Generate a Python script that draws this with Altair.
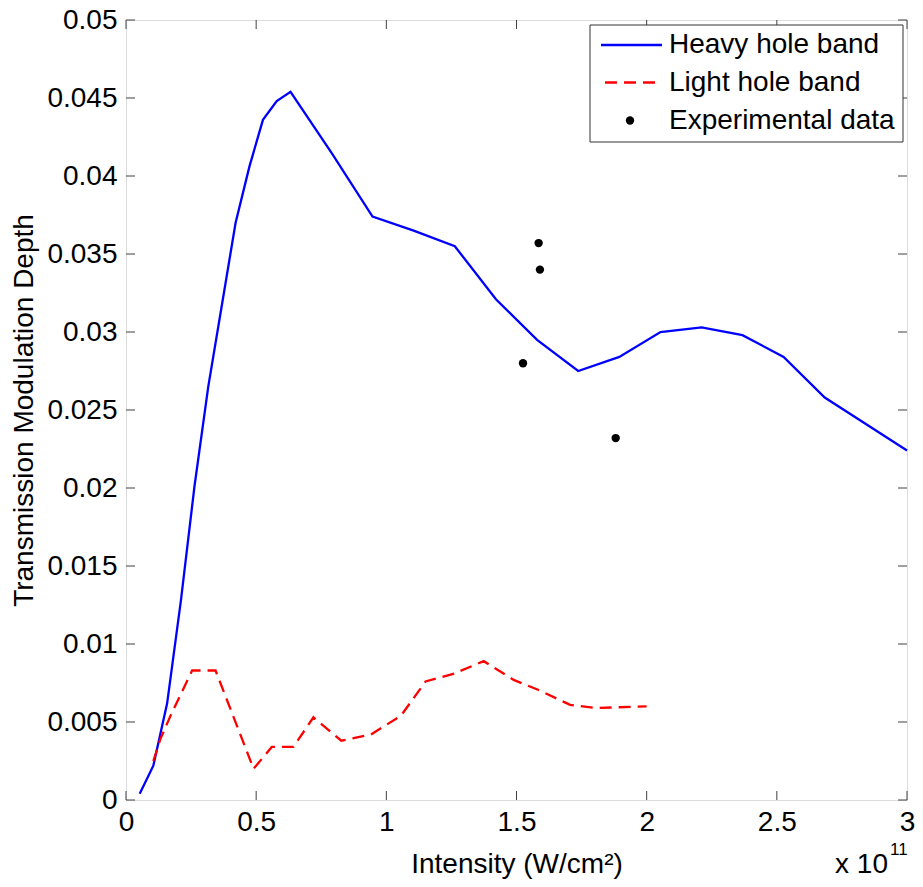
import altair as alt
import pandas as pd

# ---- data ----
heavy_x = [0.0526, 0.105, 0.158, 0.211, 0.263, 0.316, 0.368, 0.421, 0.474, 0.526, 0.579, 0.632,
           0.789, 0.947, 1.105, 1.263, 1.421, 1.579, 1.737, 1.895, 2.053, 2.211, 2.368, 2.526,
           2.684, 2.842, 3.0]
heavy_y = [0.0004, 0.0022, 0.0062, 0.0128, 0.0201, 0.0265, 0.0317, 0.0370, 0.0406, 0.0436, 0.0448, 0.0454,
           0.0415, 0.0374, 0.0365, 0.0355, 0.0321, 0.0295, 0.0275, 0.0284, 0.0300, 0.0303, 0.0298, 0.0284,
           0.0258, 0.0241, 0.0224]

light_x = [0.105, 0.132, 0.171, 0.254, 0.344, 0.49, 0.56, 0.643, 0.72, 0.827, 0.941, 1.056,
           1.151, 1.26, 1.374, 1.489, 1.578, 1.706, 1.807, 2.0]
light_y = [0.0025, 0.0039, 0.0054, 0.0083, 0.0083, 0.0020, 0.0034, 0.0034, 0.0053, 0.0038, 0.0042, 0.0054,
           0.0076, 0.0081, 0.0089, 0.0077, 0.0071, 0.0061, 0.0059, 0.0060]

exp_x = [1.525, 1.585, 1.590, 1.881]
exp_y = [0.0280, 0.0357, 0.0340, 0.0232]

x_ticks = [0, 0.5, 1, 1.5, 2, 2.5, 3]
y_ticks = [0, 0.005, 0.01, 0.015, 0.02, 0.025, 0.03, 0.035, 0.04, 0.045, 0.05]

legend_labels = ["Heavy hole band", "Light hole band", "Experimental data"]

FONT = "Liberation Sans"
FS = 28
W, H = 781, 780
TICK = 9

heavy_df = pd.DataFrame({"x": heavy_x, "y": heavy_y})
light_df = pd.DataFrame({"x": light_x, "y": light_y})
exp_df = pd.DataFrame({"x": exp_x, "y": exp_y})
xt_df = pd.DataFrame({"x": x_ticks})
yt_df = pd.DataFrame({"y": y_ticks})

X = alt.X("x:Q", scale=alt.Scale(domain=[0, 3], nice=False, zero=False),
          axis=alt.Axis(values=x_ticks, format="~g", title="Intensity (W/cm²)",
                        domain=False, ticks=False, tickSize=0, grid=False,
                        labelFont=FONT, labelFontSize=FS, labelColor="black", labelPadding=8,
                        titleFont=FONT, titleFontSize=FS, titleFontWeight="normal",
                        titleColor="black", titlePadding=14, labelFlush=False))
Y = alt.Y("y:Q", scale=alt.Scale(domain=[0, 0.05], nice=False, zero=False),
          axis=alt.Axis(values=y_ticks, format="~g", title="Transmission Modulation Depth",
                        domain=False, ticks=False, tickSize=0, grid=False,
                        labelFont=FONT, labelFontSize=FS, labelColor="black", labelPadding=9,
                        titleFont=FONT, titleFontSize=FS, titleFontWeight="normal",
                        titleColor="black", titlePadding=8, labelFlush=False))

heavy = alt.Chart(heavy_df).mark_line(color="#0000FF", strokeWidth=2.3).encode(x=X, y=Y)
light = alt.Chart(light_df).mark_line(color="#FF0000", strokeWidth=2.3, strokeDash=[12, 7]).encode(x=X, y=Y)
exp = alt.Chart(exp_df).mark_point(filled=True, shape="circle", size=70, color="black", opacity=1).encode(x=X, y=Y)

AX = "#404040"
tick_b = alt.Chart(xt_df).mark_rule(color=AX, strokeWidth=1).encode(x=X, y=alt.value(H), y2=alt.value(H - TICK))
tick_t = alt.Chart(xt_df).mark_rule(color=AX, strokeWidth=1).encode(x=X, y=alt.value(0), y2=alt.value(TICK))
tick_l = alt.Chart(yt_df).mark_rule(color=AX, strokeWidth=1).encode(y=Y, x=alt.value(0), x2=alt.value(TICK))
tick_r = alt.Chart(yt_df).mark_rule(color=AX, strokeWidth=1).encode(y=Y, x=alt.value(W), x2=alt.value(W - TICK))

# legend (drawn inside the plot, top right)
one = pd.DataFrame({"k": [0]})
LX0, LX1, LY0, LY1 = 464, 777, 5, 122
rows = [25, 62.5, 100.5]
leg_box = alt.Chart(one).mark_rect(fill="white", stroke="#333333", strokeWidth=1).encode(
    x=alt.value(LX0), x2=alt.value(LX1), y=alt.value(LY0), y2=alt.value(LY1))
leg_l1 = alt.Chart(one).mark_rule(color="#0000FF", strokeWidth=2.3).encode(
    x=alt.value(475), x2=alt.value(536), y=alt.value(rows[0]))
leg_l2 = alt.Chart(one).mark_rule(color="#FF0000", strokeWidth=2.3, strokeDash=[12, 7]).encode(
    x=alt.value(479), x2=alt.value(536), y=alt.value(rows[1]))
leg_p = alt.Chart(one).mark_point(filled=True, shape="circle", size=70, color="black", opacity=1).encode(
    x=alt.value(504), y=alt.value(rows[2]))
leg_texts = [
    alt.Chart(pd.DataFrame({"label": [lab]})).mark_text(
        align="left", baseline="middle", font=FONT, fontSize=FS, color="black").encode(
        text="label:N", x=alt.value(543), y=alt.value(ry))
    for lab, ry in zip(legend_labels, rows)
]

# exponent annotation below the x axis
exp_a = alt.Chart(pd.DataFrame({"t": ["x 10"]})).mark_text(
    align="right", baseline="alphabetic", font=FONT, fontSize=FS, color="black").encode(
    text="t:N", x=alt.value(762), y=alt.value(853))
exp_b = alt.Chart(pd.DataFrame({"t": ["11"]})).mark_text(
    align="left", baseline="alphabetic", font=FONT, fontSize=17, color="black").encode(
    text="t:N", x=alt.value(764), y=alt.value(835))

chart = alt.layer(
    heavy, light, exp, tick_b, tick_t, tick_l, tick_r,
    leg_box, leg_l1, leg_l2, leg_p, *leg_texts, exp_a, exp_b
).properties(
    width=W, height=H,
    autosize=alt.AutoSizeParams(type="none"),
    padding={"left": 118, "top": 12, "right": 8, "bottom": 79},
).configure_view(
    stroke=AX, strokeWidth=1
).configure(background="white")

chart.save("out.html", embed_options={"renderer": "svg", "actions": False})
